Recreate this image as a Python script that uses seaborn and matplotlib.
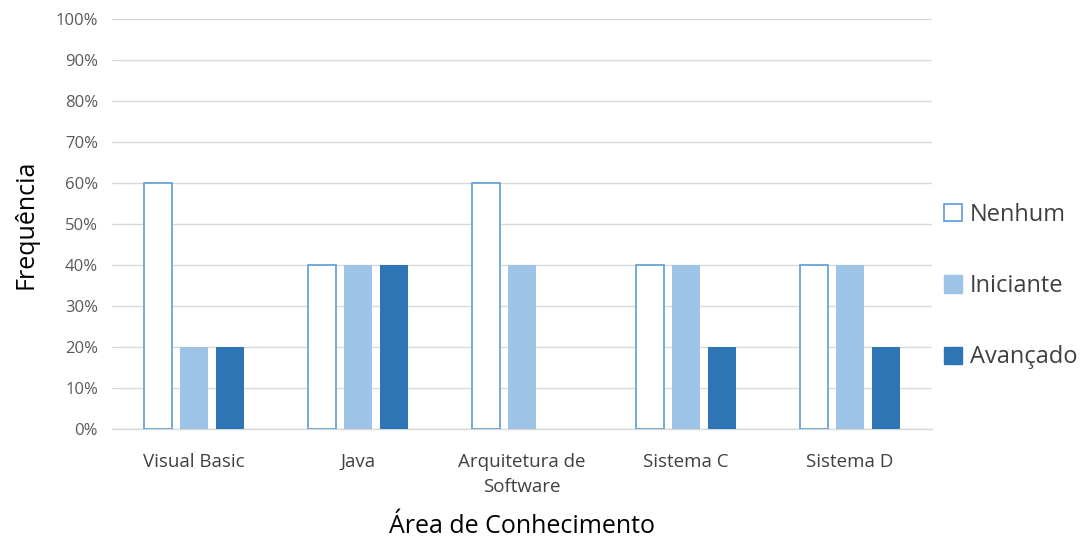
import matplotlib
matplotlib.use("Agg")
import matplotlib.pyplot as plt
import seaborn as sns
import pandas as pd
from matplotlib.ticker import FuncFormatter
from matplotlib.patches import Patch

categories = ["Visual Basic", "Java", "Arquitetura de\nSoftware", "Sistema C", "Sistema D"]
series = ["Nenhum", "Iniciante", "Avançado"]
nenhum = [60, 40, 60, 40, 40]
iniciante = [20, 40, 40, 40, 40]
avancado = [20, 40, 0, 20, 20]

rows = []
for s, vals in zip(series, [nenhum, iniciante, avancado]):
    for c, v in zip(categories, vals):
        rows.append({"Área": c, "Nível": s, "Valor": v})
df = pd.DataFrame(rows)

sns.set_theme(style="white")
plt.rcParams['font.family'] = ['Open Sans', 'DejaVu Sans']

fig = plt.figure(figsize=(10.89, 5.38), dpi=100)
ax = fig.add_axes([0.1028, 0.2026, 0.7530, 0.7621])

edge_blue = "#5B9BD5"
light = "#9DC3E6"
dark = "#2E75B6"
palette = {"Nenhum": "#FFFFFF", "Iniciante": light, "Avançado": dark}

sns.barplot(data=df, x="Área", y="Valor", hue="Nível", hue_order=series,
            order=categories, palette=palette, width=0.66, gap=0.22,
            saturation=1, legend=False, ax=ax, zorder=3)

n = len(categories)
for i, p in enumerate(ax.patches):
    if i < n:
        p.set_edgecolor(edge_blue)
        p.set_linewidth(1.2)
    else:
        p.set_linewidth(0)

ax.set_ylim(0, 100)
ax.set_xlim(-0.5, n - 0.5)
ax.set_yticks(range(0, 101, 10))
ax.yaxis.set_major_formatter(FuncFormatter(lambda v, _: f"{int(v)}%"))
ax.grid(axis="y", color="#D9D9D9", linewidth=1, zorder=0)
ax.set_axisbelow(True)
for s in ["top", "right", "left"]:
    ax.spines[s].set_visible(False)
ax.spines["bottom"].set_color("#D9D9D9")
ax.spines["bottom"].set_linewidth(1)
ax.tick_params(axis="both", length=0)
ax.tick_params(axis="y", labelsize=12, labelcolor="#595959", pad=10)
ax.tick_params(axis="x", labelsize=13.5, labelcolor="#404040", pad=17)
for t in ax.get_xticklabels():
    t.set_linespacing(1.5)

ax.set_xlabel("Área de Conhecimento", fontsize=18, color="#000000", labelpad=13)
ax.set_ylabel("Frequência", fontsize=18, color="#000000", labelpad=12)

handles = [Patch(facecolor="#FFFFFF", edgecolor=edge_blue, linewidth=1.2),
           Patch(facecolor=light, edgecolor=light),
           Patch(facecolor=dark, edgecolor=dark)]
leg = fig.legend(handles, series, loc="center left", bbox_to_anchor=(0.867, 0.468),
                 frameon=False, fontsize=17, labelcolor="#404040",
                 handlelength=0.75, handleheight=0.75, handletextpad=0.35,
                 labelspacing=2.0, borderaxespad=0, borderpad=0)

fig.savefig("out.png", dpi=100)
